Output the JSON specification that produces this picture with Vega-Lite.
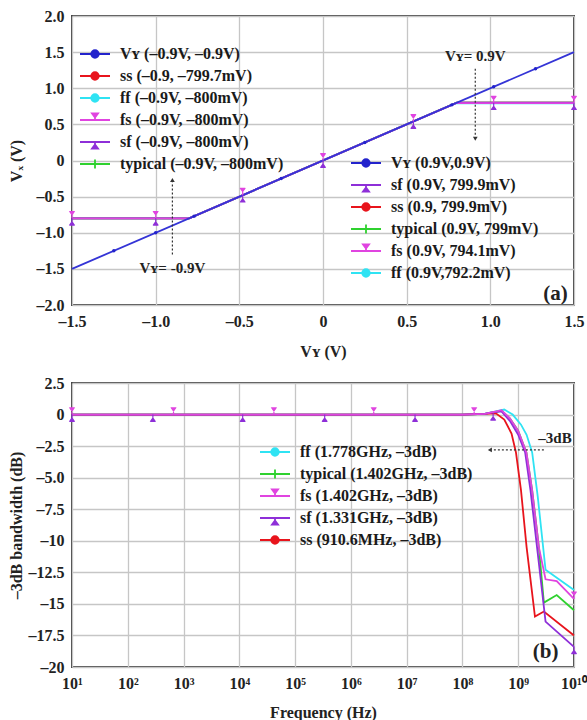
{
  "$schema": "https://vega.github.io/schema/vega-lite/v6.json",
  "background": "white",
  "padding": {"left": 7, "top": 7, "right": 0, "bottom": 0},
  "spacing": 14,
  "config": {
    "font": "Liberation Serif",
    "view": {"stroke": "#444444", "strokeWidth": 2},
    "axis": {
      "labelFont": "Liberation Serif", "labelFontWeight": "bold", "labelFontSize": 16, "labelColor": "#222",
      "titleFont": "Liberation Serif", "titleFontWeight": "bold", "titleFontSize": 16, "titleColor": "#222",
      "gridColor": "#c6c6c6", "gridWidth": 1.3, "gridOpacity": 1,
      "domain": false, "ticks": false, "labelPadding": 8, "labelFlush": false, "labelOverlap": false
    },
    "legend": {
      "labelFont": "Liberation Serif", "labelFontWeight": "bold", "labelFontSize": 16, "labelColor": "#1a1a1a",
      "labelLimit": 400, "symbolSize": 100, "symbolStrokeWidth": 1.8, "rowPadding": 0, "gridAlign": "all", "labelOffset": 17, "padding": 0
    }
  },
  "resolve": {
    "scale": {"x": "independent", "y": "independent", "color": "independent", "stroke": "independent", "shape": "independent"},
    "legend": {"color": "independent", "stroke": "independent", "shape": "independent"}
  },
  "vconcat": [
    {
      "width": 502,
      "height": 289,
      "resolve": {"scale": {"color": "independent", "stroke": "independent", "shape": "independent"}},
      "layer": [
        {
          "resolve": {"scale": {"color": "independent", "stroke": "independent", "shape": "independent"}},
          "encoding": {
            "x": {"field": "x", "type": "quantitative", "scale": {"domain": [-1.5, 1.5], "nice": false, "zero": false},
              "axis": {"values": [-1.5, -1, -0.5, 0, 0.5, 1, 1.5], "grid": true, "labelOverlap": false, "title": "Vʏ (V)", "titlePadding": 14,
                "labelExpr": "datum.value == 0 ? '0' : replace(replace(format(datum.value, '.1f'), '−', '–'), '-', '–')"}},
            "y": {"field": "y", "type": "quantitative", "scale": {"domain": [-2, 2], "nice": false, "zero": false},
              "axis": {"values": [-2, -1.5, -1, -0.5, 0, 0.5, 1, 1.5, 2], "grid": true, "labelOverlap": false, "title": "Vₓ (V)", "titlePadding": 12,
                "labelExpr": "datum.value == 0 ? '0' : replace(replace(format(datum.value, '.1f'), '−', '–'), '-', '–')"}}
          },
          "layer": [
            {
              "data": {"values": [
                {"s": "ss", "x": -1.5, "y": -0.7997}, {"s": "ss", "x": -0.7997, "y": -0.7997}, {"s": "ss", "x": 0.7999, "y": 0.7999}, {"s": "ss", "x": 1.5, "y": 0.7999},
                {"s": "ff", "x": -1.5, "y": -0.8}, {"s": "ff", "x": -0.8, "y": -0.8}, {"s": "ff", "x": 0.7922, "y": 0.7922}, {"s": "ff", "x": 1.5, "y": 0.7922},
                {"s": "typical", "x": -1.5, "y": -0.8}, {"s": "typical", "x": -0.8, "y": -0.8}, {"s": "typical", "x": 0.799, "y": 0.799}, {"s": "typical", "x": 1.5, "y": 0.799},
                {"s": "sf", "x": -1.5, "y": -0.8}, {"s": "sf", "x": -0.8, "y": -0.8}, {"s": "sf", "x": 0.7999, "y": 0.7999}, {"s": "sf", "x": 1.5, "y": 0.7999},
                {"s": "fs", "x": -1.5, "y": -0.8}, {"s": "fs", "x": -0.8, "y": -0.8}, {"s": "fs", "x": 0.7941, "y": 0.7941}, {"s": "fs", "x": 1.5, "y": 0.7941},
                {"s": "VY", "x": -1.5, "y": -1.5}, {"s": "VY", "x": 1.5, "y": 1.5}
              ]},
              "mark": {"type": "line", "strokeWidth": 1.8},
              "encoding": {
                "color": {"field": "s", "type": "nominal",
                  "scale": {"domain": ["VY", "ss", "ff", "fs", "sf", "typical"], "range": ["#3434d6", "#e8141c", "#2fe3f3", "#e044e0", "#8e2fd8", "#2fd12f"]},
                  "legend": null},
                "strokeWidth": {"condition": {"test": "datum.s == 'VY'", "value": 1.1}, "value": 1.8}
              }
            },
            {
              "data": {"values": [
                {"x": -1.25, "y": -1.25}, {"x": -1.0, "y": -1.0}, {"x": -0.77, "y": -0.77}, {"x": -0.25, "y": -0.25},
                {"x": 0.25, "y": 0.25}, {"x": 0.77, "y": 0.77}, {"x": 1.02, "y": 1.02}, {"x": 1.27, "y": 1.27}
              ]},
              "mark": {"type": "point", "filled": true, "opacity": 1, "size": 12, "color": "#2323cc"}
            },
            {
              "data": {"values": [
                {"x": -1.5, "y": -0.8}, {"x": -1.0, "y": -0.8}, {"x": -0.48, "y": -0.48}, {"x": 0, "y": 0},
                {"x": 0.54, "y": 0.54}, {"x": 1.02, "y": 0.7941}, {"x": 1.5, "y": 0.7941}
              ]},
              "mark": {"type": "point", "filled": true, "opacity": 1, "size": 64, "strokeWidth": 1.2, "fill": "#e044e0", "stroke": "#e044e0",
                "shape": "M0,0V-1.7M-0.65,-1.7H0.65M-0.5,-1.6L0.5,-1.6L0,-0.9Z"}
            },
            {
              "data": {"values": [
                {"x": -1.5, "y": -0.8}, {"x": -1.0, "y": -0.8}, {"x": -0.48, "y": -0.48}, {"x": 0, "y": 0},
                {"x": 0.54, "y": 0.54}, {"x": 1.02, "y": 0.7999}, {"x": 1.5, "y": 0.7999}
              ]},
              "mark": {"type": "point", "filled": true, "opacity": 1, "size": 64, "strokeWidth": 1.2, "fill": "#8e2fd8", "stroke": "#8e2fd8",
                "shape": "M0,0V1.7M-0.65,1.7H0.65M-0.5,1.6L0.5,1.6L0,0.9Z"}
            },
            {
              "data": {"values": []},
              "mark": {"type": "point", "filled": true, "opacity": 1, "size": 100, "strokeWidth": 1.8},
              "encoding": {
                "color": {"field": "s", "type": "nominal",
                  "scale": {"domain": ["VY", "ss", "ff", "fs", "sf", "typical"], "range": ["#2323cc", "#e8141c", "#2fe3f3", "#e044e0", "#8e2fd8", "#2fd12f"]},
                  "legend": {"orient": "none", "legendX": 15, "legendY": 30, "title": null,
                    "labelExpr": "{'VY': 'Vʏ (–0.9V, –0.9V)', 'ss': 'ss (–0.9, –799.7mV)', 'ff': 'ff (–0.9V, –800mV)', 'fs': 'fs (–0.9V, –800mV)', 'sf': 'sf (–0.9V, –800mV)', 'typical': 'typical (–0.9V, –800mV)'}[datum.value]"}},
                "stroke": {"field": "s", "type": "nominal",
                  "scale": {"domain": ["VY", "ss", "ff", "fs", "sf", "typical"], "range": ["#2323cc", "#e8141c", "#2fe3f3", "#e044e0", "#8e2fd8", "#2fd12f"]},
                  "legend": {"orient": "none", "legendX": 15, "legendY": 30, "title": null,
                    "labelExpr": "{'VY': 'Vʏ (–0.9V, –0.9V)', 'ss': 'ss (–0.9, –799.7mV)', 'ff': 'ff (–0.9V, –800mV)', 'fs': 'fs (–0.9V, –800mV)', 'sf': 'sf (–0.9V, –800mV)', 'typical': 'typical (–0.9V, –800mV)'}[datum.value]"}},
                "shape": {"field": "s", "type": "nominal",
                  "scale": {"domain": ["VY", "ss", "ff", "fs", "sf", "typical"], "range": [
                    "M-3,0H3M-0.75,0A0.75,0.75,0,1,0,0.75,0A0.75,0.75,0,1,0,-0.75,0Z",
                    "M-3,0H3M-0.75,0A0.75,0.75,0,1,0,0.75,0A0.75,0.75,0,1,0,-0.75,0Z",
                    "M-3,0H3M-0.75,0A0.75,0.75,0,1,0,0.75,0A0.75,0.75,0,1,0,-0.75,0Z",
                    "M-3,0H3M0,0V-1.3M-0.6,-1.3L0.6,-1.3L0,-0.5Z",
                    "M-3,0H3M0,0V1.3M-0.6,1.3L0.6,1.3L0,0.5Z",
                    "M-3,0H3M0,-0.9V0.9"]},
                  "legend": {"orient": "none", "legendX": 15, "legendY": 30, "title": null,
                    "labelExpr": "{'VY': 'Vʏ (–0.9V, –0.9V)', 'ss': 'ss (–0.9, –799.7mV)', 'ff': 'ff (–0.9V, –800mV)', 'fs': 'fs (–0.9V, –800mV)', 'sf': 'sf (–0.9V, –800mV)', 'typical': 'typical (–0.9V, –800mV)'}[datum.value]"}}
              }
            },
            {
              "data": {"values": []},
              "mark": {"type": "point", "filled": true, "opacity": 1, "size": 100, "strokeWidth": 1.8},
              "encoding": {
                "color": {"field": "s", "type": "nominal",
                  "scale": {"domain": ["VY", "sf", "ss", "typical", "fs", "ff"], "range": ["#2323cc", "#8e2fd8", "#e8141c", "#2fd12f", "#e044e0", "#2fe3f3"]},
                  "legend": {"orient": "none", "legendX": 286, "legendY": 139, "title": null,
                    "labelExpr": "{'VY': 'Vʏ (0.9V,0.9V)', 'sf': 'sf (0.9V, 799.9mV)', 'ss': 'ss (0.9, 799.9mV)', 'typical': 'typical (0.9V, 799mV)', 'fs': 'fs (0.9V, 794.1mV)', 'ff': 'ff (0.9V,792.2mV)'}[datum.value]"}},
                "stroke": {"field": "s", "type": "nominal",
                  "scale": {"domain": ["VY", "sf", "ss", "typical", "fs", "ff"], "range": ["#2323cc", "#8e2fd8", "#e8141c", "#2fd12f", "#e044e0", "#2fe3f3"]},
                  "legend": {"orient": "none", "legendX": 286, "legendY": 139, "title": null,
                    "labelExpr": "{'VY': 'Vʏ (0.9V,0.9V)', 'sf': 'sf (0.9V, 799.9mV)', 'ss': 'ss (0.9, 799.9mV)', 'typical': 'typical (0.9V, 799mV)', 'fs': 'fs (0.9V, 794.1mV)', 'ff': 'ff (0.9V,792.2mV)'}[datum.value]"}},
                "shape": {"field": "s", "type": "nominal",
                  "scale": {"domain": ["VY", "sf", "ss", "typical", "fs", "ff"], "range": [
                    "M-3,0H3M-0.75,0A0.75,0.75,0,1,0,0.75,0A0.75,0.75,0,1,0,-0.75,0Z",
                    "M-3,0H3M0,0V1.3M-0.6,1.3L0.6,1.3L0,0.5Z",
                    "M-3,0H3M-0.75,0A0.75,0.75,0,1,0,0.75,0A0.75,0.75,0,1,0,-0.75,0Z",
                    "M-3,0H3M0,-0.9V0.9",
                    "M-3,0H3M0,0V-1.3M-0.6,-1.3L0.6,-1.3L0,-0.5Z",
                    "M-3,0H3M-0.75,0A0.75,0.75,0,1,0,0.75,0A0.75,0.75,0,1,0,-0.75,0Z"]},
                  "legend": {"orient": "none", "legendX": 286, "legendY": 139, "title": null,
                    "labelExpr": "{'VY': 'Vʏ (0.9V,0.9V)', 'sf': 'sf (0.9V, 799.9mV)', 'ss': 'ss (0.9, 799.9mV)', 'typical': 'typical (0.9V, 799mV)', 'fs': 'fs (0.9V, 794.1mV)', 'ff': 'ff (0.9V,792.2mV)'}[datum.value]"}}
              }
            }
          ]
        },
        {
          "data": {"values": [{}]},
          "mark": {"type": "rule", "strokeDash": [2, 2], "color": "#333", "strokeWidth": 1.2},
          "encoding": {
            "x": {"datum": 0.91, "type": "quantitative", "axis": {"values": [-1.5, -1, -0.5, 0, 0.5, 1, 1.5], "grid": true, "labelOverlap": false, "title": "Vʏ (V)", "titlePadding": 14, "labelExpr": "datum.value == 0 ? '0' : replace(replace(format(datum.value, '.1f'), '−', '–'), '-', '–')"}},
            "y": {"datum": 1.27, "type": "quantitative", "axis": {"values": [-2, -1.5, -1, -0.5, 0, 0.5, 1, 1.5, 2], "grid": true, "labelOverlap": false, "title": "Vₓ (V)", "titlePadding": 12, "labelExpr": "datum.value == 0 ? '0' : replace(replace(format(datum.value, '.1f'), '−', '–'), '-', '–')"}},
            "y2": {"datum": 0.33}}
        },
        {
          "data": {"values": [{}]},
          "mark": {"type": "rule", "strokeDash": [2, 2], "color": "#333", "strokeWidth": 1.2},
          "encoding": {
            "x": {"datum": -0.9, "type": "quantitative", "axis": {"values": [-1.5, -1, -0.5, 0, 0.5, 1, 1.5], "grid": true, "labelOverlap": false, "title": "Vʏ (V)", "titlePadding": 14, "labelExpr": "datum.value == 0 ? '0' : replace(replace(format(datum.value, '.1f'), '−', '–'), '-', '–')"}},
            "y": {"datum": -1.3, "type": "quantitative", "axis": {"values": [-2, -1.5, -1, -0.5, 0, 0.5, 1, 1.5, 2], "grid": true, "labelOverlap": false, "title": "Vₓ (V)", "titlePadding": 12, "labelExpr": "datum.value == 0 ? '0' : replace(replace(format(datum.value, '.1f'), '−', '–'), '-', '–')"}},
            "y2": {"datum": -0.3}}
        },
        {
          "data": {"values": [{}]},
          "mark": {"type": "point", "shape": "triangle-down", "filled": true, "color": "#333", "size": 22, "opacity": 1},
          "encoding": {
            "x": {"datum": 0.91, "type": "quantitative", "axis": {"values": [-1.5, -1, -0.5, 0, 0.5, 1, 1.5], "grid": true, "labelOverlap": false, "title": "Vʏ (V)", "titlePadding": 14, "labelExpr": "datum.value == 0 ? '0' : replace(replace(format(datum.value, '.1f'), '−', '–'), '-', '–')"}},
            "y": {"datum": 0.3, "type": "quantitative", "axis": {"values": [-2, -1.5, -1, -0.5, 0, 0.5, 1, 1.5, 2], "grid": true, "labelOverlap": false, "title": "Vₓ (V)", "titlePadding": 12, "labelExpr": "datum.value == 0 ? '0' : replace(replace(format(datum.value, '.1f'), '−', '–'), '-', '–')"}}}
        },
        {
          "data": {"values": [{}]},
          "mark": {"type": "point", "shape": "triangle-up", "filled": true, "color": "#333", "size": 22, "opacity": 1},
          "encoding": {
            "x": {"datum": -0.9, "type": "quantitative", "axis": {"values": [-1.5, -1, -0.5, 0, 0.5, 1, 1.5], "grid": true, "labelOverlap": false, "title": "Vʏ (V)", "titlePadding": 14, "labelExpr": "datum.value == 0 ? '0' : replace(replace(format(datum.value, '.1f'), '−', '–'), '-', '–')"}},
            "y": {"datum": -0.27, "type": "quantitative", "axis": {"values": [-2, -1.5, -1, -0.5, 0, 0.5, 1, 1.5, 2], "grid": true, "labelOverlap": false, "title": "Vₓ (V)", "titlePadding": 12, "labelExpr": "datum.value == 0 ? '0' : replace(replace(format(datum.value, '.1f'), '−', '–'), '-', '–')"}}}
        },
        {
          "data": {"values": [{}]},
          "mark": {"type": "text", "font": "Liberation Serif", "fontWeight": "bold", "fontSize": 15, "color": "#222"},
          "encoding": {
            "x": {"datum": 0.91, "type": "quantitative", "axis": {"values": [-1.5, -1, -0.5, 0, 0.5, 1, 1.5], "grid": true, "labelOverlap": false, "title": "Vʏ (V)", "titlePadding": 14, "labelExpr": "datum.value == 0 ? '0' : replace(replace(format(datum.value, '.1f'), '−', '–'), '-', '–')"}},
            "y": {"datum": 1.45, "type": "quantitative", "axis": {"values": [-2, -1.5, -1, -0.5, 0, 0.5, 1, 1.5, 2], "grid": true, "labelOverlap": false, "title": "Vₓ (V)", "titlePadding": 12, "labelExpr": "datum.value == 0 ? '0' : replace(replace(format(datum.value, '.1f'), '−', '–'), '-', '–')"}},
            "text": {"value": "Vʏ= 0.9V"}}
        },
        {
          "data": {"values": [{}]},
          "mark": {"type": "text", "font": "Liberation Serif", "fontWeight": "bold", "fontSize": 15, "color": "#222"},
          "encoding": {
            "x": {"datum": -0.9, "type": "quantitative", "axis": {"values": [-1.5, -1, -0.5, 0, 0.5, 1, 1.5], "grid": true, "labelOverlap": false, "title": "Vʏ (V)", "titlePadding": 14, "labelExpr": "datum.value == 0 ? '0' : replace(replace(format(datum.value, '.1f'), '−', '–'), '-', '–')"}},
            "y": {"datum": -1.49, "type": "quantitative", "axis": {"values": [-2, -1.5, -1, -0.5, 0, 0.5, 1, 1.5, 2], "grid": true, "labelOverlap": false, "title": "Vₓ (V)", "titlePadding": 12, "labelExpr": "datum.value == 0 ? '0' : replace(replace(format(datum.value, '.1f'), '−', '–'), '-', '–')"}},
            "text": {"value": "Vʏ= -0.9V"}}
        },
        {
          "data": {"values": [{}]},
          "mark": {"type": "text", "font": "Liberation Serif", "fontWeight": "bold", "fontSize": 21, "color": "#222"},
          "encoding": {
            "x": {"datum": 1.39, "type": "quantitative", "axis": {"values": [-1.5, -1, -0.5, 0, 0.5, 1, 1.5], "grid": true, "labelOverlap": false, "title": "Vʏ (V)", "titlePadding": 14, "labelExpr": "datum.value == 0 ? '0' : replace(replace(format(datum.value, '.1f'), '−', '–'), '-', '–')"}},
            "y": {"datum": -1.85, "type": "quantitative", "axis": {"values": [-2, -1.5, -1, -0.5, 0, 0.5, 1, 1.5, 2], "grid": true, "labelOverlap": false, "title": "Vₓ (V)", "titlePadding": 12, "labelExpr": "datum.value == 0 ? '0' : replace(replace(format(datum.value, '.1f'), '−', '–'), '-', '–')"}},
            "text": {"value": "(a)"}}
        }
      ]
    },
    {
      "width": 502,
      "height": 284,
      "resolve": {"scale": {"color": "independent", "stroke": "independent", "shape": "independent"}},
      "layer": [
        {
          "resolve": {"scale": {"color": "independent", "stroke": "independent", "shape": "independent"}},
          "encoding": {
            "x": {"field": "f", "type": "quantitative", "scale": {"type": "log", "domain": [10, 10000000000], "nice": false},
              "axis": {"values": [10, 100, 1000, 10000, 100000, 1000000, 10000000, 100000000, 1000000000, 10000000000], "grid": true, "labelOverlap": false, "title": "Frequency (Hz)", "titlePadding": 13,
                "labelExpr": "'10' + ['⁰','¹','²','³','⁴','⁵','⁶','⁷','⁸','⁹','¹⁰'][round(log(datum.value) / LN10)]"}},
            "y": {"field": "db", "type": "quantitative", "scale": {"domain": [-20, 2.5], "nice": false, "zero": false},
              "axis": {"values": [2.5, 0, -2.5, -5, -7.5, -10, -12.5, -15, -17.5, -20], "grid": true, "labelOverlap": false, "title": "–3dB bandwidth (dB)", "titlePadding": 4,
                "labelExpr": "datum.value == 0 ? '0' : replace(replace((abs(datum.value) >= 10 && datum.value % 1 == 0) ? format(datum.value, 'd') : format(datum.value, '.1f'), '−', '–'), '-', '–')"}}
          },
          "layer": [
            {
              "data": {"values": [
                {"s": "ff", "f": 10, "db": 0}, {"s": "ff", "f": 100, "db": 0}, {"s": "ff", "f": 1000, "db": 0}, {"s": "ff", "f": 10000, "db": 0}, {"s": "ff", "f": 100000, "db": 0}, {"s": "ff", "f": 1000000, "db": 0}, {"s": "ff", "f": 10000000, "db": 0}, {"s": "ff", "f": 100000000, "db": 0},
                {"s": "ff", "f": 251200000, "db": 0.05}, {"s": "ff", "f": 562300000, "db": 0.4}, {"s": "ff", "f": 794300000, "db": 0.0}, {"s": "ff", "f": 1122000000, "db": -0.8}, {"s": "ff", "f": 1413000000, "db": -1.6}, {"s": "ff", "f": 1778000000, "db": -3.0}, {"s": "ff", "f": 2239000000, "db": -6.5}, {"s": "ff", "f": 3090000000, "db": -12.3}, {"s": "ff", "f": 10000000000, "db": -13.9},
                {"s": "typical", "f": 10, "db": 0}, {"s": "typical", "f": 100, "db": 0}, {"s": "typical", "f": 1000, "db": 0}, {"s": "typical", "f": 10000, "db": 0}, {"s": "typical", "f": 100000, "db": 0}, {"s": "typical", "f": 1000000, "db": 0}, {"s": "typical", "f": 10000000, "db": 0}, {"s": "typical", "f": 100000000, "db": 0},
                {"s": "typical", "f": 251200000, "db": 0.05}, {"s": "typical", "f": 501200000, "db": 0.3}, {"s": "typical", "f": 707900000, "db": -0.3}, {"s": "typical", "f": 1000000000, "db": -1.3}, {"s": "typical", "f": 1402000000, "db": -3.0}, {"s": "typical", "f": 1778000000, "db": -6}, {"s": "typical", "f": 2344000000, "db": -10.5}, {"s": "typical", "f": 2884000000, "db": -14.9}, {"s": "typical", "f": 4898000000, "db": -14.3}, {"s": "typical", "f": 10000000000, "db": -15.5},
                {"s": "ss", "f": 10, "db": 0}, {"s": "ss", "f": 100, "db": 0}, {"s": "ss", "f": 1000, "db": 0}, {"s": "ss", "f": 10000, "db": 0}, {"s": "ss", "f": 100000, "db": 0}, {"s": "ss", "f": 1000000, "db": 0}, {"s": "ss", "f": 10000000, "db": 0}, {"s": "ss", "f": 100000000, "db": 0},
                {"s": "ss", "f": 251200000, "db": 0.05}, {"s": "ss", "f": 398100000, "db": 0.1}, {"s": "ss", "f": 562300000, "db": -0.4}, {"s": "ss", "f": 758600000, "db": -1.5}, {"s": "ss", "f": 910600000, "db": -3.0}, {"s": "ss", "f": 1122000000, "db": -6}, {"s": "ss", "f": 1413000000, "db": -10.5}, {"s": "ss", "f": 1995000000, "db": -16.0}, {"s": "ss", "f": 2884000000, "db": -15.6}, {"s": "ss", "f": 10000000000, "db": -17.5},
                {"s": "sf", "f": 10, "db": 0}, {"s": "sf", "f": 100, "db": 0}, {"s": "sf", "f": 1000, "db": 0}, {"s": "sf", "f": 10000, "db": 0}, {"s": "sf", "f": 100000, "db": 0}, {"s": "sf", "f": 1000000, "db": 0}, {"s": "sf", "f": 10000000, "db": 0}, {"s": "sf", "f": 100000000, "db": 0},
                {"s": "sf", "f": 251200000, "db": 0.05}, {"s": "sf", "f": 316200000, "db": 0.15}, {"s": "sf", "f": 501200000, "db": 0.25}, {"s": "sf", "f": 707900000, "db": -0.5}, {"s": "sf", "f": 1000000000, "db": -1.6}, {"s": "sf", "f": 1331000000, "db": -3.0}, {"s": "sf", "f": 1660000000, "db": -6}, {"s": "sf", "f": 2239000000, "db": -11}, {"s": "sf", "f": 3090000000, "db": -16.4}, {"s": "sf", "f": 10000000000, "db": -18.4},
                {"s": "fs", "f": 10, "db": 0}, {"s": "fs", "f": 100, "db": 0}, {"s": "fs", "f": 1000, "db": 0}, {"s": "fs", "f": 10000, "db": 0}, {"s": "fs", "f": 100000, "db": 0}, {"s": "fs", "f": 1000000, "db": 0}, {"s": "fs", "f": 10000000, "db": 0}, {"s": "fs", "f": 100000000, "db": 0},
                {"s": "fs", "f": 251200000, "db": 0.05}, {"s": "fs", "f": 501200000, "db": 0.35}, {"s": "fs", "f": 707900000, "db": -0.3}, {"s": "fs", "f": 1000000000, "db": -1.3}, {"s": "fs", "f": 1402000000, "db": -3.0}, {"s": "fs", "f": 1778000000, "db": -6}, {"s": "fs", "f": 2344000000, "db": -10.5}, {"s": "fs", "f": 3090000000, "db": -13.05}, {"s": "fs", "f": 4898000000, "db": -13.2}, {"s": "fs", "f": 10000000000, "db": -14.6}
              ]},
              "mark": {"type": "line", "strokeWidth": 1.8},
              "encoding": {
                "color": {"field": "s", "type": "nominal",
                  "scale": {"domain": ["ff", "typical", "fs", "sf", "ss"], "range": ["#2fe3f3", "#2fd12f", "#e044e0", "#8e2fd8", "#e8141c"]},
                  "legend": null}
              }
            },
            {
              "data": {"values": [
                {"f": 10, "db": 0}, {"f": 660.7, "db": 0}, {"f": 41690, "db": 0}, {"f": 2570000, "db": 0}, {"f": 162200000, "db": 0}, {"f": 10000000000, "db": -14.6}
              ]},
              "mark": {"type": "point", "filled": true, "opacity": 1, "size": 64, "strokeWidth": 1.2, "fill": "#e044e0", "stroke": "#e044e0",
                "shape": "M0,0V-1.7M-0.65,-1.7H0.65M-0.5,-1.6L0.5,-1.6L0,-0.9Z"}
            },
            {
              "data": {"values": [
                {"f": 10, "db": 0}, {"f": 281.8, "db": 0}, {"f": 11480, "db": 0}, {"f": 338800, "db": 0}, {"f": 14130000, "db": 0}, {"f": 354800000, "db": 0.1}, {"f": 10000000000, "db": -18.4}
              ]},
              "mark": {"type": "point", "filled": true, "opacity": 1, "size": 64, "strokeWidth": 1.2, "fill": "#8e2fd8", "stroke": "#8e2fd8",
                "shape": "M0,0V1.7M-0.65,1.7H0.65M-0.5,1.6L0.5,1.6L0,0.9Z"}
            },
            {
              "data": {"values": []},
              "mark": {"type": "point", "filled": true, "opacity": 1, "size": 100, "strokeWidth": 1.8},
              "encoding": {
                "color": {"field": "s", "type": "nominal",
                  "scale": {"domain": ["ff", "typical", "fs", "sf", "ss"], "range": ["#2fe3f3", "#2fd12f", "#e044e0", "#8e2fd8", "#e8141c"]},
                  "legend": {"orient": "none", "legendX": 195, "legendY": 61, "title": null,
                    "labelExpr": "{'ff': 'ff (1.778GHz, –3dB)', 'typical': 'typical (1.402GHz, –3dB)', 'fs': 'fs (1.402GHz, –3dB)', 'sf': 'sf (1.331GHz, –3dB)', 'ss': 'ss (910.6MHz, –3dB)'}[datum.value]"}},
                "stroke": {"field": "s", "type": "nominal",
                  "scale": {"domain": ["ff", "typical", "fs", "sf", "ss"], "range": ["#2fe3f3", "#2fd12f", "#e044e0", "#8e2fd8", "#e8141c"]},
                  "legend": {"orient": "none", "legendX": 195, "legendY": 61, "title": null,
                    "labelExpr": "{'ff': 'ff (1.778GHz, –3dB)', 'typical': 'typical (1.402GHz, –3dB)', 'fs': 'fs (1.402GHz, –3dB)', 'sf': 'sf (1.331GHz, –3dB)', 'ss': 'ss (910.6MHz, –3dB)'}[datum.value]"}},
                "shape": {"field": "s", "type": "nominal",
                  "scale": {"domain": ["ff", "typical", "fs", "sf", "ss"], "range": [
                    "M-3,0H3M-0.75,0A0.75,0.75,0,1,0,0.75,0A0.75,0.75,0,1,0,-0.75,0Z",
                    "M-3,0H3M0,-0.9V0.9",
                    "M-3,0H3M0,0V-1.3M-0.6,-1.3L0.6,-1.3L0,-0.5Z",
                    "M-3,0H3M0,0V1.3M-0.6,1.3L0.6,1.3L0,0.5Z",
                    "M-3,0H3M-0.75,0A0.75,0.75,0,1,0,0.75,0A0.75,0.75,0,1,0,-0.75,0Z"]},
                  "legend": {"orient": "none", "legendX": 195, "legendY": 61, "title": null,
                    "labelExpr": "{'ff': 'ff (1.778GHz, –3dB)', 'typical': 'typical (1.402GHz, –3dB)', 'fs': 'fs (1.402GHz, –3dB)', 'sf': 'sf (1.331GHz, –3dB)', 'ss': 'ss (910.6MHz, –3dB)'}[datum.value]"}}
              }
            }
          ]
        },
        {
          "data": {"values": [{}]},
          "mark": {"type": "rule", "strokeDash": [2, 2], "color": "#333", "strokeWidth": 1.2},
          "encoding": {
            "x": {"datum": 2884000000, "type": "quantitative", "axis": {"values": [10, 100, 1000, 10000, 100000, 1000000, 10000000, 100000000, 1000000000, 10000000000], "grid": true, "labelOverlap": false, "title": "Frequency (Hz)", "titlePadding": 13, "labelExpr": "'10' + ['⁰','¹','²','³','⁴','⁵','⁶','⁷','⁸','⁹','¹⁰'][round(log(datum.value) / LN10)]"}},
            "x2": {"datum": 330000000},
            "y": {"datum": -2.8, "type": "quantitative", "axis": {"values": [2.5, 0, -2.5, -5, -7.5, -10, -12.5, -15, -17.5, -20], "grid": true, "labelOverlap": false, "title": "–3dB bandwidth (dB)", "titlePadding": 4, "labelExpr": "datum.value == 0 ? '0' : replace(replace((abs(datum.value) >= 10 && datum.value % 1 == 0) ? format(datum.value, 'd') : format(datum.value, '.1f'), '−', '–'), '-', '–')"}}}
        },
        {
          "data": {"values": [{}]},
          "mark": {"type": "point", "shape": "triangle-left", "filled": true, "color": "#333", "size": 22, "opacity": 1},
          "encoding": {
            "x": {"datum": 310000000, "type": "quantitative", "axis": {"values": [10, 100, 1000, 10000, 100000, 1000000, 10000000, 100000000, 1000000000, 10000000000], "grid": true, "labelOverlap": false, "title": "Frequency (Hz)", "titlePadding": 13, "labelExpr": "'10' + ['⁰','¹','²','³','⁴','⁵','⁶','⁷','⁸','⁹','¹⁰'][round(log(datum.value) / LN10)]"}},
            "y": {"datum": -2.8, "type": "quantitative", "axis": {"values": [2.5, 0, -2.5, -5, -7.5, -10, -12.5, -15, -17.5, -20], "grid": true, "labelOverlap": false, "title": "–3dB bandwidth (dB)", "titlePadding": 4, "labelExpr": "datum.value == 0 ? '0' : replace(replace((abs(datum.value) >= 10 && datum.value % 1 == 0) ? format(datum.value, 'd') : format(datum.value, '.1f'), '−', '–'), '-', '–')"}}}
        },
        {
          "data": {"values": [{}]},
          "mark": {"type": "text", "font": "Liberation Serif", "fontWeight": "bold", "fontSize": 15, "color": "#222"},
          "encoding": {
            "x": {"datum": 4570000000, "type": "quantitative", "axis": {"values": [10, 100, 1000, 10000, 100000, 1000000, 10000000, 100000000, 1000000000, 10000000000], "grid": true, "labelOverlap": false, "title": "Frequency (Hz)", "titlePadding": 13, "labelExpr": "'10' + ['⁰','¹','²','³','⁴','⁵','⁶','⁷','⁸','⁹','¹⁰'][round(log(datum.value) / LN10)]"}},
            "y": {"datum": -1.84, "type": "quantitative", "axis": {"values": [2.5, 0, -2.5, -5, -7.5, -10, -12.5, -15, -17.5, -20], "grid": true, "labelOverlap": false, "title": "–3dB bandwidth (dB)", "titlePadding": 4, "labelExpr": "datum.value == 0 ? '0' : replace(replace((abs(datum.value) >= 10 && datum.value % 1 == 0) ? format(datum.value, 'd') : format(datum.value, '.1f'), '−', '–'), '-', '–')"}},
            "text": {"value": "–3dB"}}
        },
        {
          "data": {"values": [{}]},
          "mark": {"type": "text", "font": "Liberation Serif", "fontWeight": "bold", "fontSize": 21, "color": "#222"},
          "encoding": {
            "x": {"datum": 3090000000, "type": "quantitative", "axis": {"values": [10, 100, 1000, 10000, 100000, 1000000, 10000000, 100000000, 1000000000, 10000000000], "grid": true, "labelOverlap": false, "title": "Frequency (Hz)", "titlePadding": 13, "labelExpr": "'10' + ['⁰','¹','²','³','⁴','⁵','⁶','⁷','⁸','⁹','¹⁰'][round(log(datum.value) / LN10)]"}},
            "y": {"datum": -18.8, "type": "quantitative", "axis": {"values": [2.5, 0, -2.5, -5, -7.5, -10, -12.5, -15, -17.5, -20], "grid": true, "labelOverlap": false, "title": "–3dB bandwidth (dB)", "titlePadding": 4, "labelExpr": "datum.value == 0 ? '0' : replace(replace((abs(datum.value) >= 10 && datum.value % 1 == 0) ? format(datum.value, 'd') : format(datum.value, '.1f'), '−', '–'), '-', '–')"}},
            "text": {"value": "(b)"}}
        }
      ]
    }
  ]
}
